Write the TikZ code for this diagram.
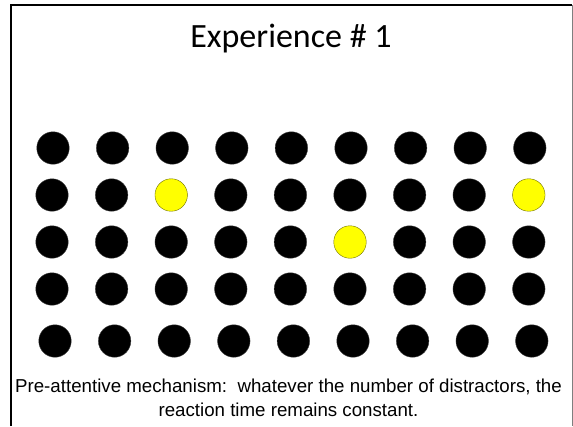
\documentclass[tikz,border=0pt]{standalone}
\usepackage{fontspec}
\setmainfont{Liberation Sans}
\newfontfamily\titlefont{Carlito}
\definecolor{dotyellow}{HTML}{FFFF00}
\definecolor{dotedge}{HTML}{6E6E00}
\definecolor{framegray}{HTML}{7F7F7F}

\tikzset{
  dot/.style={circle, minimum size=32.5pt, inner sep=0pt, fill=black, draw=black!75, line width=0.4pt},
  target/.style={fill=dotyellow, draw=dotedge},
  % the three odd ones out
  hit 2-3/.style={target}, hit 2-9/.style={target}, hit 3-6/.style={target}
}

\begin{document}
\begin{tikzpicture}[x=1pt, y=-1pt]
  \useasboundingbox (0,0) rectangle (573,426);
  % slide frame
  \draw[line width=1.6pt] (11,426) -- (11,5) -- (572,5);
  \draw[framegray, line width=0.8pt] (572,5) -- (572,426);

  \node[anchor=base] (title) at (291,47.5) {\titlefont\fontsize{34}{40}\selectfont Experience \# 1};

  % search display: 9 x 5 dots
  \foreach \r/\y/\dx in {1/148/0, 2/195/-1, 3/242/-1, 4/289/-1, 5/341/2}{
    \foreach \c in {1,...,9}{
      \node[dot, hit \r-\c/.try] (d-\r-\c) at ({53+59.6*(\c-1)+\dx},\y) {};
    }
  }

  \node[align=center, font=\fontsize{18.7}{24}\selectfont] (caption) at (288.5,398)
    {Pre-attentive mechanism:\ \ whatever the number of distractors, the\\
     reaction time remains constant.};
\end{tikzpicture}
\end{document}
